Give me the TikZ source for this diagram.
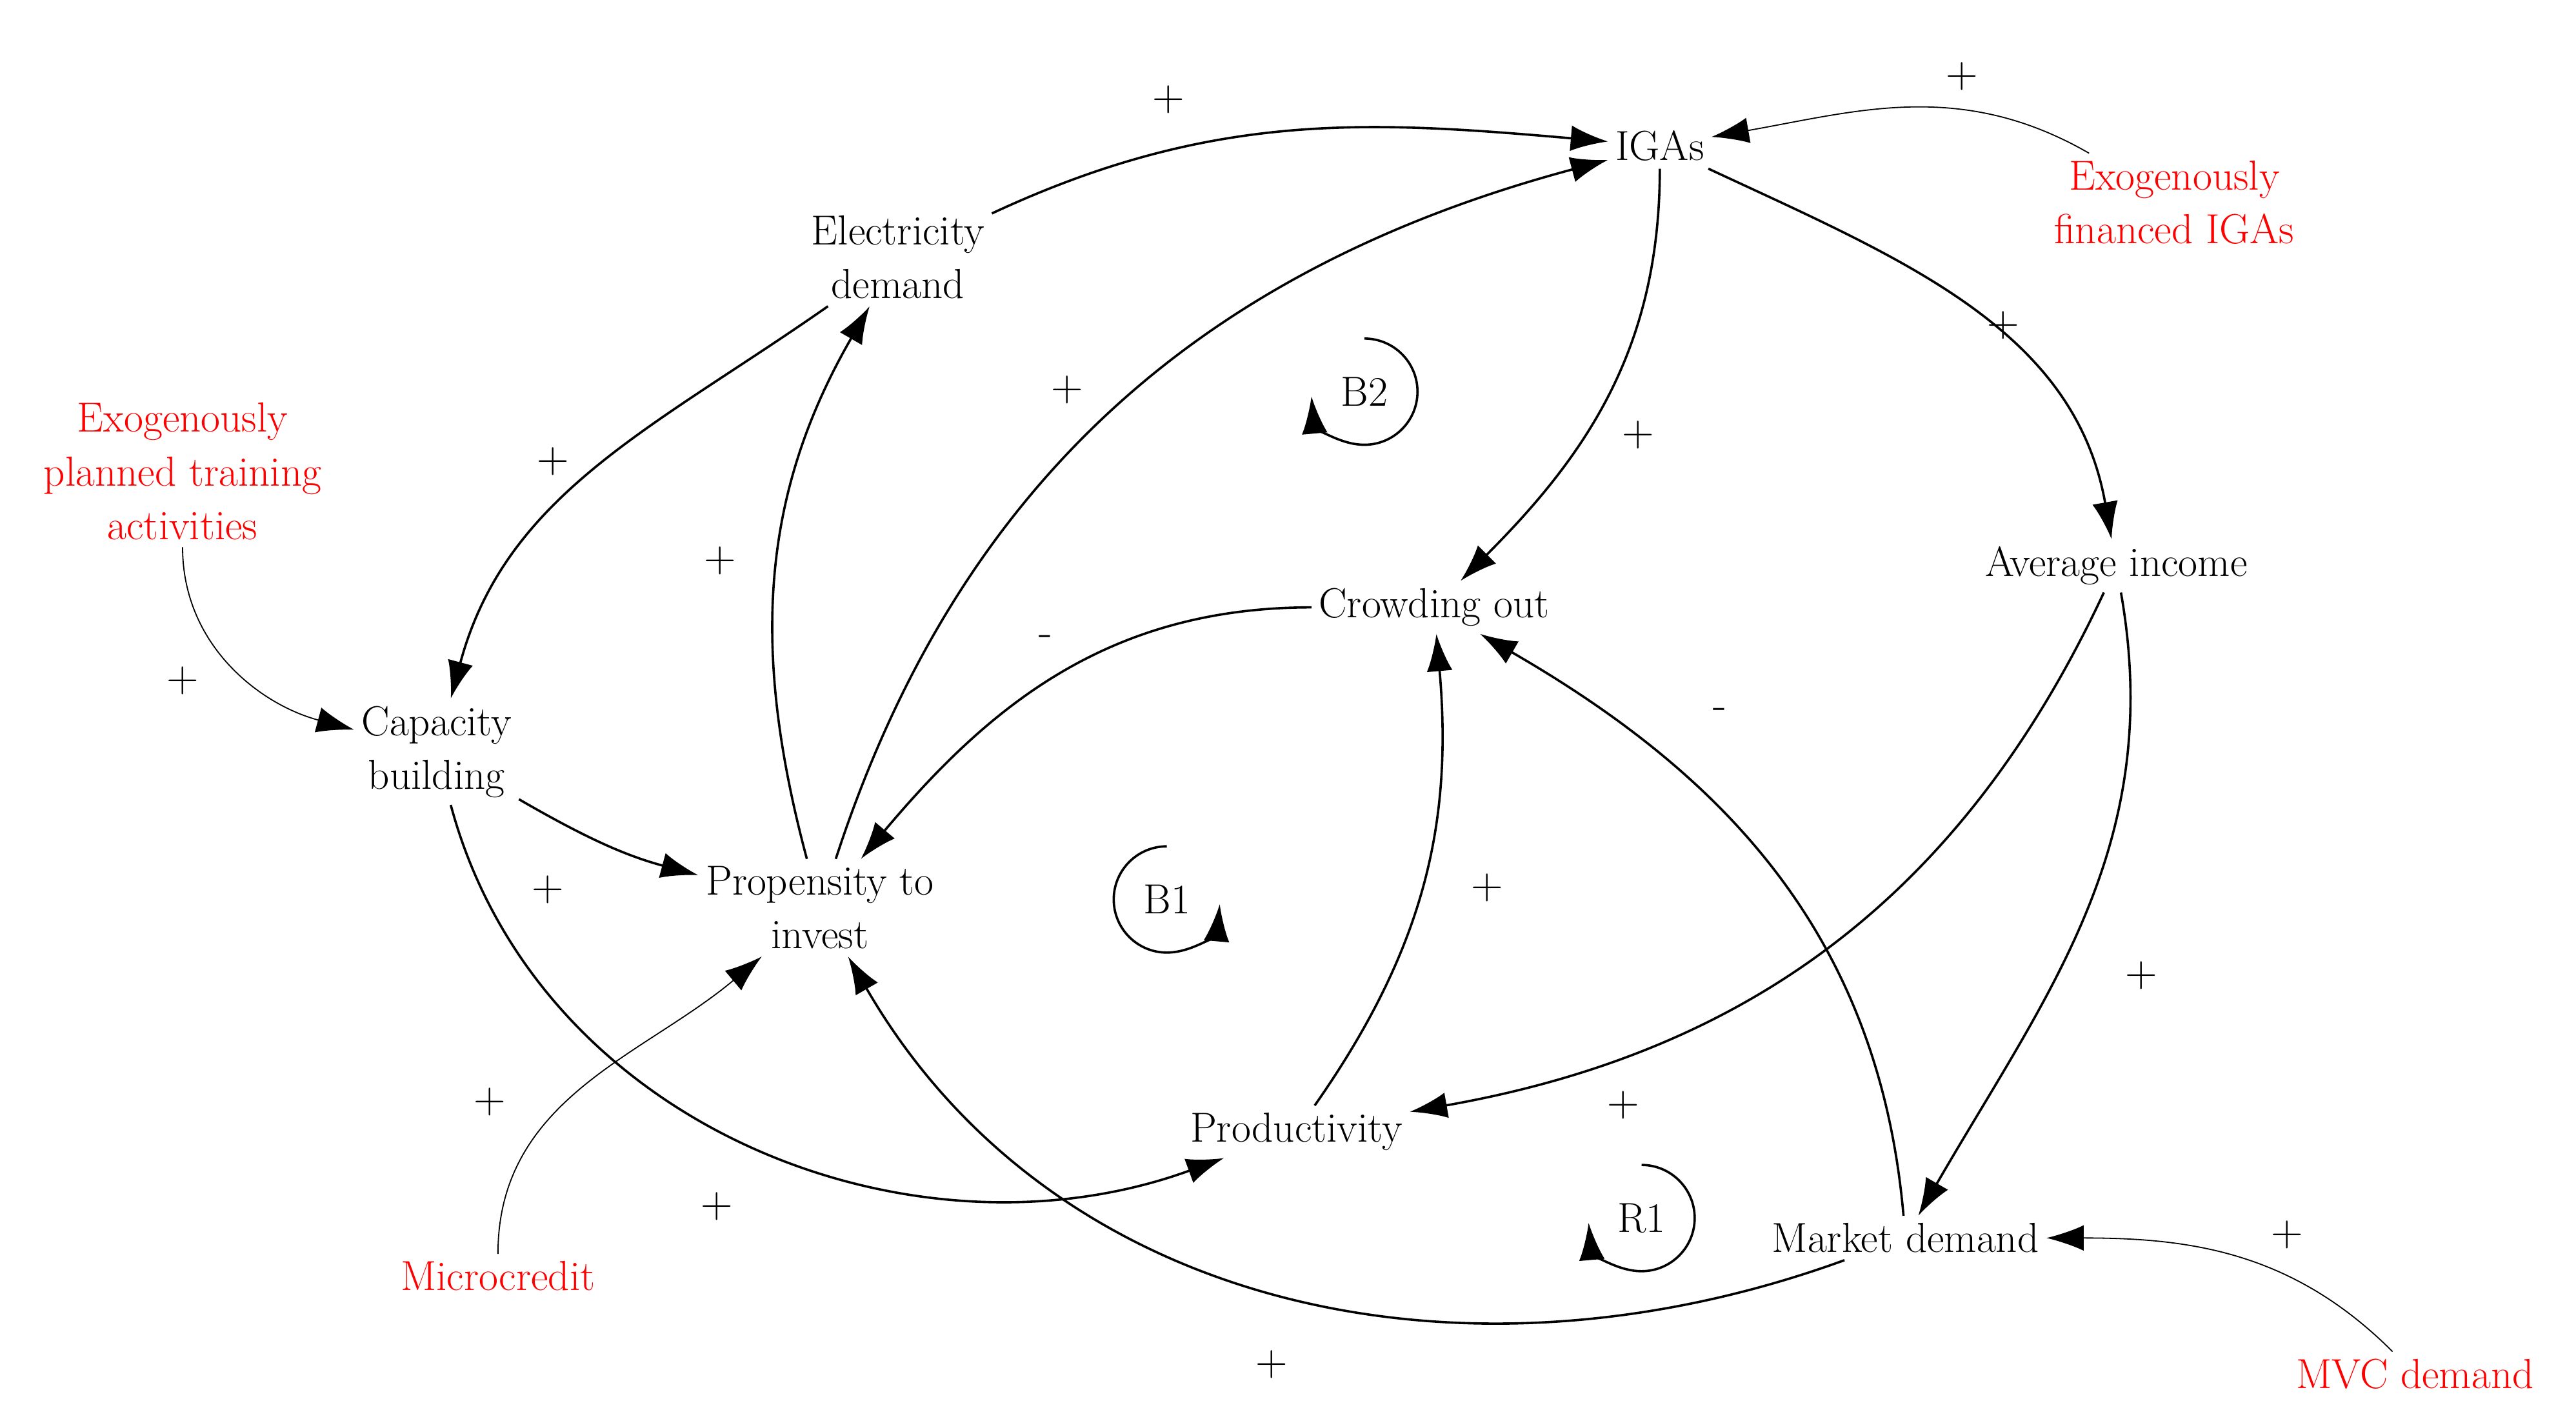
\documentclass[tikz,border=0pt]{standalone}
\usetikzlibrary{arrows.meta}
\begin{document}
\begin{tikzpicture}[x=0.025cm,y=-0.025cm,
  v/.style={align=center,font=\fontsize{18}{23}\selectfont,inner sep=3pt},
  ex/.style={v,text=red},
  l/.style={font=\fontsize{19}{24}\selectfont},
  a/.style={-{Latex[length=16pt,width=11pt]},line width=1pt},
  t/.style={-{Latex[length=16pt,width=11pt]},line width=0.5pt}]
\useasboundingbox (0,0) rectangle (1552,855);
\node[v] (igas) at (1000,88) {IGAs};
\node[v] (elec) at (541,155) {Electricity\\demand};
\node[ex] (exf) at (1310,122) {Exogenously\\financed IGAs};
\node[ex] (ext) at (110,284) {Exogenously\\planned training\\activities};
\node[v] (avg) at (1275,341) {Average income};
\node[v] (crowd) at (864,366) {Crowding out};
\node[v] (cap) at (263,453) {Capacity\\building};
\node[v] (prop) at (494,547) {Propensity to\\invest};
\node[v] (prod) at (781,682) {Productivity};
\node[v] (mkt) at (1148,746) {Market demand};
\node[ex] (micro) at (300,769) {Microcredit};
\node[ex] (mvc) at (1455,828) {MVC demand};
\draw[a] (elec) to[out=25,in=175] (igas);
\draw[a] (prop) to[out=72,in=195] (igas);
\draw[a] (prop) to[out=105,in=240] (elec);
\draw[a] (elec) to[out=215,in=75] (cap);
\draw[t] (ext) to[out=-90,in=165] (cap);
\draw[a] (cap) to[out=-30,in=165] (prop);
\draw[a] (cap) to[out=-75,in=200] (prod);
\draw[t] (micro) to[out=90,in=220] (prop);
\draw[a] (crowd) to[out=180,in=50] (prop);
\draw[a] (igas) to[out=-90,in=45] (crowd);
\draw[a] (igas) to[out=-25,in=100] (avg);
\draw[t] (exf) to[out=150,in=10] (igas);
\draw[a] (avg) to[out=-115,in=10] (prod);
\draw[a] (avg) to[out=-80,in=60] (mkt);
\draw[a] (prod) to[out=55,in=-85] (crowd);
\draw[a] (mkt) to[out=95,in=-30] (crowd);
\draw[a] (mkt) to[out=200,in=-60] (prop);
\draw[t] (mvc) to[out=135,in=0] (mkt);
\foreach \p/\s in {{704,60}/+,{643,235}/+,{434,338}/+,{333,278}/+,{110,410}/+,{330,536}/+,{432,727}/+,{295,664}/+,{630,386}/-,{987,262}/+,{1207,196}/+,{1182,46}/+,{978,666}/+,{1290,588}/+,{896,535}/+,{1036,430}/-,{766,822}/+,{1378,744}/+}
  \node[l] at (\p) {\s};
\node[v] (b2) at (822,236) {B2};
\node[v] (b1) at (703,542) {B1};
\node[v] (r1) at (989,734) {R1};
\coordinate (b2s) at (822,204);
\coordinate (b1s) at (703,510);
\coordinate (r1s) at (989,702);
\draw[a] (b2s) arc[start angle=90,end angle=-175,radius=0.8cm];
\draw[a] (b1s) arc[start angle=90,end angle=355,radius=0.8cm];
\draw[a] (r1s) arc[start angle=90,end angle=-175,radius=0.8cm];
\end{tikzpicture}
\end{document}
